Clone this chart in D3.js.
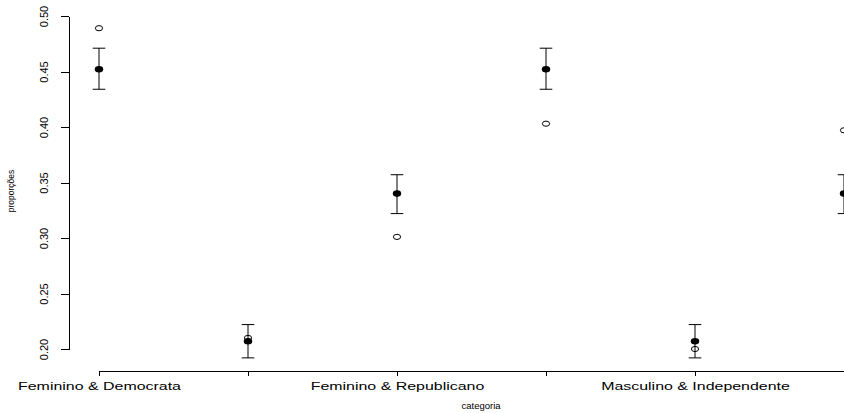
<!DOCTYPE html>
<html>
<head>
<meta charset="utf-8">
<script src="https://cdn.jsdelivr.net/npm/d3@7"></script>
<style>
  body { margin: 0; background: #fff; }
  svg { display: block; font-family: "Liberation Sans", Arial, sans-serif; }
</style>
</head>
<body>
<div id="chart"></div>
<script>
// categorias (sexo & partido)
const categorias = ["Feminino & Democrata", "Feminino & Independente", "Feminino & Republicano",
                    "Masculino & Democrata", "Masculino & Independente", "Masculino & Republicano"];
// proporções observadas (círculos abertos)
const observadas = [0.489, 0.210, 0.301, 0.403, 0.200, 0.397];
// proporções esperadas (pontos cheios) e intervalo
const esperadas = [0.452, 0.207, 0.340, 0.452, 0.207, 0.340];
const inferior = [0.434, 0.192, 0.322, 0.434, 0.192, 0.322];
const superior = [0.471, 0.222, 0.357, 0.471, 0.222, 0.357];
const yTicks = [0.20, 0.25, 0.30, 0.35, 0.40, 0.45, 0.50];

var width = 844
var height = 413;

let svg = d3.select("#chart")
    .append("svg")
    .attr("width", width)
    .attr("height", height)

const x = d3.scalePoint()
    .domain(categorias)
    .range([99, 844])

const y = d3.scaleLinear()
    .domain([0.20, 0.50])
    .range([349, 16])

const data = categorias.map((c, i) => ({
    cat: c, obs: observadas[i], esp: esperadas[i], lo: inferior[i], hi: superior[i]
}))

// eixo y
const yAxis = svg.append("g")
    .attr("transform", "translate(69,0)")
    .call(d3.axisLeft(y).tickValues(yTicks).tickSize(8).tickSizeOuter(0).tickFormat(d3.format(".2f")))
yAxis.selectAll("path, line").attr("stroke", "#000").attr("shape-rendering", "crispEdges")
yAxis.selectAll("text")
    .attr("x", null).attr("dy", null)
    .attr("transform", "translate(-21,0) rotate(-90)")
    .attr("text-anchor", "middle")
    .style("font-size", "11px")
    .attr("fill", "#000")

// eixo x (R omite rótulos sobrepostos)
const xAxis = svg.append("g")
    .attr("transform", "translate(0,371)")
    .call(d3.axisBottom(x).tickSizeInner(5).tickSizeOuter(0)
        .tickFormat((d, i) => i % 2 === 0 ? d : ""))
xAxis.selectAll("path, line").attr("stroke", "#000").attr("shape-rendering", "crispEdges")
xAxis.selectAll("text")
    .attr("y", 19).attr("dy", null)
    .attr("transform", "scale(1.45,1)")
    .style("font-size", "11px")
    .attr("fill", "#000")

// barras de erro
const bars = svg.append("g").attr("stroke", "#000").attr("stroke-width", 1)
bars.selectAll(".vert")
    .data(data)
    .join("line")
    .attr("x1", d => x(d.cat)).attr("x2", d => x(d.cat))
    .attr("y1", d => y(d.lo)).attr("y2", d => y(d.hi))
bars.selectAll(".capHi")
    .data(data)
    .join("line")
    .attr("x1", d => x(d.cat) - 6.3).attr("x2", d => x(d.cat) + 6.3)
    .attr("y1", d => y(d.hi)).attr("y2", d => y(d.hi))
bars.selectAll(".capLo")
    .data(data)
    .join("line")
    .attr("x1", d => x(d.cat) - 6.3).attr("x2", d => x(d.cat) + 6.3)
    .attr("y1", d => y(d.lo)).attr("y2", d => y(d.lo))

// pontos esperados
svg.append("g").selectAll("ellipse")
    .data(data)
    .join("ellipse")
    .attr("cx", d => x(d.cat))
    .attr("cy", d => y(d.esp))
    .attr("rx", 4.2)
    .attr("ry", 3.3)
    .attr("fill", "#000")

// pontos observados
svg.append("g").selectAll("ellipse")
    .data(data)
    .join("ellipse")
    .attr("cx", d => x(d.cat))
    .attr("cy", d => y(d.obs))
    .attr("rx", 3.6)
    .attr("ry", 2.6)
    .attr("fill", "none")
    .attr("stroke", "#000")
    .attr("stroke-width", 1)

// títulos
svg.append("text")
    .attr("x", 481)
    .attr("y", 409)
    .attr("text-anchor", "middle")
    .style("font-size", "9.5px")
    .text("categoria")

svg.append("text")
    .attr("transform", "translate(14,191) rotate(-90)")
    .attr("text-anchor", "middle")
    .style("font-size", "8.5px")
    .text("proporções")
</script>
</body>
</html>
